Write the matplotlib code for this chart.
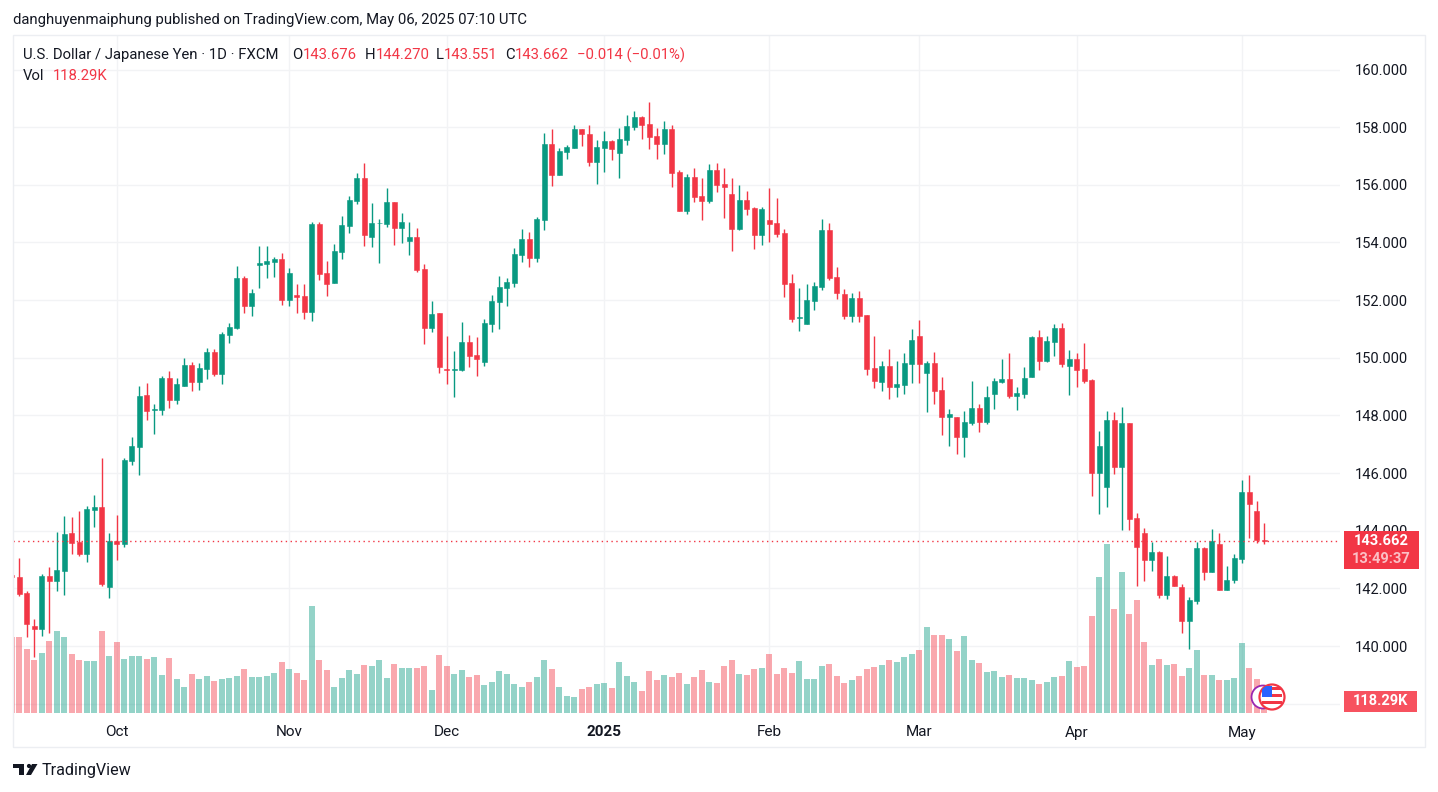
import matplotlib
matplotlib.use('Agg')
import matplotlib.pyplot as plt
from matplotlib.patches import Rectangle, Circle, Polygon

W, H = 1438, 792

UP = '#089981'
DOWN = '#f23645'
GRID = '#f2f3f5'
TEXT = '#131722'

plt.rcParams['font.family'] = ['Roboto', 'DejaVu Sans']

# daily candles
opens = [142.46, 142.40, 141.84, 140.70, 140.59, 142.43, 142.26, 142.61, 143.92, 143.61,
         143.19, 144.72, 144.82, 142.05, 143.65, 143.54, 146.42, 146.91, 148.71, 148.20,
         148.19, 149.30, 148.54, 149.02, 149.75, 149.16, 149.61, 150.20, 149.44, 150.79,
         151.04, 152.77, 151.80, 153.23, 153.25, 153.33, 153.43, 152.01, 152.19, 152.15,
         151.60, 154.65, 152.95, 152.60, 153.68, 154.58, 155.45, 156.24, 154.20, 154.66,
         154.65, 155.41, 154.51, 154.06, 154.20, 153.09, 151.04, 151.54, 149.62, 149.58,
         149.58, 150.55, 150.10, 149.86, 151.18, 151.94, 152.43, 152.60, 153.57, 154.13,
         153.46, 154.77, 157.41, 156.34, 157.13, 157.27, 157.93, 157.76, 156.79, 157.27,
         157.51, 157.10, 157.55, 158.00, 158.35, 158.10, 157.69, 157.41, 157.93, 156.44,
         155.09, 156.27, 155.61, 155.43, 156.51, 156.02, 155.68, 154.46, 155.47, 155.19,
         154.25, 154.78, 154.67, 154.32, 152.59, 151.38, 151.17, 151.96, 152.45, 154.43,
         152.80, 152.21, 151.44, 152.07, 151.48, 149.64, 149.16, 149.71, 148.98, 149.05,
         149.78, 150.75, 149.47, 149.81, 148.88, 147.94, 147.94, 147.25, 147.73, 148.25,
         147.77, 148.74, 149.16, 149.26, 148.67, 148.74, 149.33, 150.72, 149.88, 150.54,
         151.03, 149.71, 149.95, 149.61, 149.22, 145.99, 145.51, 147.84, 146.20, 147.73,
         144.43, 143.91, 142.97, 143.25, 141.79, 142.42, 142.04, 140.86, 141.55, 143.39,
         142.56, 143.53, 141.93, 142.28, 143.01, 145.34, 144.68, 143.676]
highs = [142.50, 143.04, 141.92, 140.93, 142.49, 142.74, 143.96, 144.51, 144.48, 144.69,
         144.86, 145.24, 146.52, 143.92, 144.55, 146.52, 147.25, 149.02, 149.13, 148.40,
         149.37, 149.54, 149.30, 149.99, 149.85, 149.82, 150.34, 150.30, 150.90, 151.21,
         153.19, 152.84, 152.39, 153.88, 153.88, 153.50, 153.64, 153.12, 152.57, 152.57,
         154.72, 154.72, 153.36, 153.95, 154.92, 155.62, 156.42, 156.76, 155.38, 154.82,
         155.90, 155.41, 155.03, 154.72, 154.51, 153.26, 151.98, 151.57, 150.76, 150.24,
         151.25, 150.80, 150.73, 151.35, 152.19, 152.84, 152.77, 153.81, 154.47, 154.37,
         154.88, 157.79, 157.93, 157.27, 157.38, 158.07, 157.93, 158.07, 157.55, 157.86,
         157.55, 157.97, 158.42, 158.55, 158.38, 158.87, 157.97, 158.21, 158.07, 156.51,
         156.37, 156.58, 156.23, 156.72, 156.75, 156.58, 156.23, 155.99, 155.78, 155.23,
         155.23, 155.88, 155.54, 154.46, 152.90, 152.42, 152.55, 152.62, 154.81, 154.67,
         153.14, 152.38, 152.24, 152.31, 151.48, 150.75, 149.88, 150.30, 149.88, 150.16,
         150.99, 151.30, 149.88, 150.20, 149.33, 148.22, 147.94, 148.15, 149.19, 148.39,
         149.02, 149.29, 149.95, 150.16, 148.98, 149.68, 150.75, 150.96, 150.75, 151.17,
         151.20, 150.27, 150.16, 150.51, 149.26, 147.45, 148.15, 148.11, 148.29, 147.73,
         144.61, 144.09, 143.60, 143.29, 143.11, 142.45, 142.14, 141.69, 143.60, 143.43,
         144.05, 143.92, 142.77, 143.18, 145.75, 145.93, 145.02, 144.270]
lows = [142.38, 141.74, 140.30, 139.63, 140.35, 140.44, 141.91, 141.77, 143.19, 143.13,
        142.92, 144.13, 142.08, 141.67, 142.99, 143.44, 146.28, 145.94, 147.84, 147.36,
        148.01, 148.26, 148.40, 149.02, 148.85, 148.88, 149.26, 149.37, 149.09, 150.51,
        151.00, 151.56, 151.46, 152.43, 152.77, 152.81, 151.84, 151.80, 151.56, 151.35,
        151.28, 152.71, 152.15, 152.60, 153.43, 154.34, 155.34, 153.88, 153.85, 153.30,
        154.54, 153.92, 153.99, 153.57, 152.98, 150.49, 150.90, 149.48, 149.10, 148.65,
        149.55, 149.69, 149.38, 149.72, 150.90, 151.01, 151.80, 152.46, 153.33, 153.16,
        153.32, 154.43, 155.95, 156.34, 156.89, 157.27, 157.34, 156.65, 156.02, 156.44,
        156.85, 156.23, 157.38, 157.90, 157.58, 157.24, 156.89, 157.06, 155.92, 155.09,
        154.98, 155.40, 154.77, 155.36, 155.75, 154.84, 153.70, 154.43, 154.95, 153.77,
        153.91, 154.01, 154.18, 152.10, 151.24, 150.92, 151.17, 151.65, 152.35, 152.69,
        152.03, 151.34, 151.24, 151.24, 149.40, 148.95, 148.84, 148.57, 148.63, 148.74,
        149.12, 149.12, 148.11, 148.39, 147.32, 146.94, 146.66, 146.55, 147.66, 147.42,
        147.70, 148.22, 149.12, 148.60, 148.18, 148.60, 149.33, 149.57, 149.85, 150.06,
        149.68, 148.70, 148.98, 149.12, 145.20, 144.57, 144.81, 145.96, 144.02, 144.02,
        142.07, 142.25, 142.59, 141.66, 141.62, 142.07, 140.47, 139.89, 141.45, 142.28,
        142.56, 141.93, 141.93, 142.18, 142.87, 143.74, 143.57, 143.551]
closes = [142.41, 141.81, 140.77, 140.59, 142.43, 142.26, 142.64, 143.89, 143.58, 143.19,
          144.76, 144.82, 142.15, 143.65, 143.54, 146.45, 146.94, 148.67, 148.15, 148.23,
          149.31, 148.54, 149.09, 149.75, 149.16, 149.65, 150.20, 149.44, 150.83, 151.07,
          152.77, 151.80, 152.25, 153.28, 153.36, 153.43, 152.01, 152.95, 152.12, 151.60,
          154.65, 152.91, 152.57, 153.71, 154.61, 155.48, 156.24, 154.27, 154.68, 154.69,
          155.41, 154.51, 154.72, 154.20, 153.05, 151.04, 151.53, 149.69, 149.58, 149.62,
          150.55, 150.07, 149.96, 151.21, 151.98, 152.46, 152.64, 153.61, 154.13, 153.47,
          154.81, 157.41, 156.34, 157.17, 157.31, 157.93, 157.76, 156.79, 157.31, 157.51,
          157.24, 157.58, 158.03, 158.35, 158.07, 157.65, 157.41, 157.93, 156.40, 155.09,
          156.27, 155.57, 155.43, 156.51, 155.99, 155.92, 154.46, 155.47, 155.16, 154.25,
          155.16, 154.64, 154.29, 152.55, 151.34, 151.41, 152.00, 152.48, 154.43, 152.76,
          152.24, 151.44, 152.07, 151.44, 149.61, 149.19, 149.71, 148.98, 149.09, 149.81,
          150.61, 149.78, 149.81, 148.84, 147.94, 148.05, 147.25, 147.77, 148.25, 147.77,
          148.63, 149.19, 149.26, 148.67, 148.77, 149.29, 150.72, 149.88, 150.58, 151.03,
          149.78, 149.95, 149.57, 149.19, 145.99, 146.93, 147.84, 146.20, 147.73, 144.40,
          143.43, 142.97, 143.25, 141.79, 142.42, 142.07, 140.86, 141.59, 143.39, 142.56,
          143.63, 141.93, 142.31, 143.04, 145.34, 144.92, 143.67, 143.662]
# volume in thousands
volumes = [736, 736, 617, 510, 578, 694, 791, 733, 568, 510, 501, 501, 791, 549, 685, 520,
           549, 549, 520, 539, 365, 530, 326, 249, 375, 326, 355, 307, 326, 336, 355, 423,
           346, 346, 355, 384, 491, 423, 384, 317, 1043, 510, 413, 249, 336, 413, 375, 462,
           452, 510, 336, 472, 433, 433, 433, 452, 220, 559, 452, 375, 413, 346, 365, 268,
           297, 404, 375, 278, 249, 297, 346, 510, 423, 249, 162, 152, 229, 249, 278, 287,
           239, 491, 355, 297, 210, 404, 317, 365, 346, 384, 278, 346, 413, 297, 287, 452,
           510, 375, 365, 423, 433, 568, 375, 433, 384, 501, 326, 326, 452, 472, 355, 287,
           317, 355, 423, 443, 462, 510, 491, 539, 568, 607, 830, 753, 753, 714, 598, 743,
           510, 481, 394, 404, 346, 365, 336, 336, 317, 278, 297, 346, 355, 501, 443, 452,
           937, 1324, 1644, 1014, 1373, 956, 1092, 685, 462, 520, 462, 472, 355, 433, 607,
           365, 365, 317, 317, 336, 675, 433, 326, 118.29]

price_ticks = [138, 140, 142, 144, 146, 148, 150, 152, 154, 156, 158, 160]
month_ticks = [14, 37, 58, 79, 101, 121, 142, 164]
month_labels = ['Oct', 'Nov', 'Dec', '2025', 'Feb', 'Mar', 'Apr', 'May']
last_price = 143.662
last_volume = 118.29


def ftext(x, y, s, **kw):
    # text placed in image pixels, y from the top
    kw.setdefault('va', 'center')
    kw.setdefault('color', TEXT)
    kw.setdefault('fontsize', 10.7)
    return fig.text(x / W, 1 - y / H, s, **kw)


def pxrect(x0, y0, x1, y1, **kw):
    p = Rectangle((x0, H - y1), x1 - x0, y1 - y0, transform=None, **kw)
    fig.add_artist(p)
    return p


fig = plt.figure(figsize=(W / 100, H / 100), dpi=100, facecolor='white')

# chart panel, pixels
left, right, top, bottom = 13, 1340, 35, 713
rect = [left / W, 1 - bottom / H, (right - left) / W, (bottom - top) / H]

ax_grid = fig.add_axes(rect, zorder=0)
ax_vol = fig.add_axes(rect, zorder=1, sharex=ax_grid)
ax = fig.add_axes(rect, zorder=2, sharex=ax_grid, sharey=ax_grid)
ax_vol.patch.set_visible(False)
ax.patch.set_visible(False)
ax_vol.axis('off')
ax.axis('off')

x = list(range(len(closes)))
up = [c >= o for o, c in zip(opens, closes)]
colors = [UP if u else DOWN for u in up]

ax_vol.bar(x, volumes, width=0.84, color=colors, alpha=0.43, linewidth=0)
ax_vol.set_ylim(0, 6580)

ax.vlines(x, lows, highs, colors=colors, linewidth=1.0)
ax.bar(x, [abs(c - o) for o, c in zip(opens, closes)],
       bottom=[min(o, c) for o, c in zip(opens, closes)],
       width=0.64, color=colors, edgecolor=colors, linewidth=0.4)
ax.axhline(last_price, color=DOWN, linewidth=1, linestyle=(0, (1, 2.5)))

ax_grid.set_xlim(0.16, 177.09)
ax_grid.set_ylim(137.68, 161.197)
ax_grid.grid(True, color=GRID, linewidth=1)
ax_grid.set_axisbelow(True)
ax_grid.yaxis.tick_right()
ax_grid.set_yticks(price_ticks)
# the 138 label sits behind the volume tag
ax_grid.set_yticklabels(['' if p == 138 else '%.3f' % p for p in price_ticks],
                        fontsize=10.5, color=TEXT)
ax_grid.set_xticks(month_ticks)
ax_grid.set_xticklabels(month_labels, fontsize=11, color=TEXT)
ax_grid.get_xticklabels()[3].set_fontweight('bold')
ax_grid.tick_params(axis='both', length=0)
ax_grid.tick_params(axis='y', pad=11)
ax_grid.tick_params(axis='x', pad=9)
for s in ax_grid.spines.values():
    s.set_visible(False)

# outer frame
pxrect(13, 35, 1425, 747, fill=False, edgecolor='#eceef2', linewidth=1, zorder=3)

# title and legend
ftext(13, 20, 'danghuyenmaiphung published on TradingView.com, May 06, 2025 07:10 UTC')
ftext(23, 55, 'U.S. Dollar / Japanese Yen · 1D · FXCM')
for xl, xv, l, v in [(292, 303, 'O', '143.676'), (365, 376, 'H', '144.270'),
                     (436, 444, 'L', '143.551'), (505, 515, 'C', '143.662')]:
    ftext(xl, 55, l)
    ftext(xv, 55, v, color=DOWN)
ftext(577, 55, '−0.014 (−0.01%)', color=DOWN)
ftext(23, 76, 'Vol')
ftext(53, 76, '118.29K', color=DOWN)

# last price and volume tags, placed from the data
y_price = H - ax.transData.transform((0, last_price))[1]
y_vol = H - ax_vol.transData.transform((0, last_volume))[1]
pxrect(1344, y_price - 10, 1419, y_price + 28, facecolor=DOWN, edgecolor='none', zorder=4)
ftext(1381, y_price, '%.3f' % last_price, color='white', fontsize=10.5, fontweight='bold',
      ha='center', zorder=5)
ftext(1381, y_price + 18, '13:49:37', color='#fbc0c5', fontsize=10.5, fontweight='bold',
      ha='center', zorder=5)
pxrect(1344, y_vol - 10, 1417, y_vol + 11, facecolor='#f7525f', edgecolor='none', zorder=4)
ftext(1381, y_vol, '118.29K', color='white', fontsize=10.5, fontweight='bold',
      ha='center', zorder=5)

# event icon (purple ring behind the flag)
fig.add_artist(Circle((1263, H - 697), 11.5, transform=None, facecolor='white',
                      edgecolor='#9c27b0', linewidth=1.3, zorder=4))
flag = Circle((1272, H - 697), 12.5, transform=None, facecolor='white',
              edgecolor=DOWN, linewidth=1.6, zorder=4)
fig.add_artist(flag)
for yy in (688, 695, 702):
    r = pxrect(1262, yy - 1.5, 1282, yy + 1.5, facecolor=DOWN, edgecolor='none', zorder=5)
    r.set_clip_path(flag)
r = pxrect(1262, 686, 1272, 697, facecolor='#2962ff', edgecolor='none', zorder=5)
r.set_clip_path(flag)

# TradingView logo
for pts in ([(13, 764), (24, 764), (24, 775), (19, 775), (19, 768), (13, 768)],
            [(32, 764), (37.5, 764), (31, 775), (26, 775)]):
    fig.add_artist(Polygon([(a, H - b) for a, b in pts], transform=None,
                           facecolor=TEXT, edgecolor='none'))
fig.add_artist(Circle((29, H - 766), 2.1, transform=None, facecolor=TEXT, edgecolor='none'))
ftext(42, 771, 'TradingView', fontsize=11.6)

fig.savefig('out.png', dpi=100)
